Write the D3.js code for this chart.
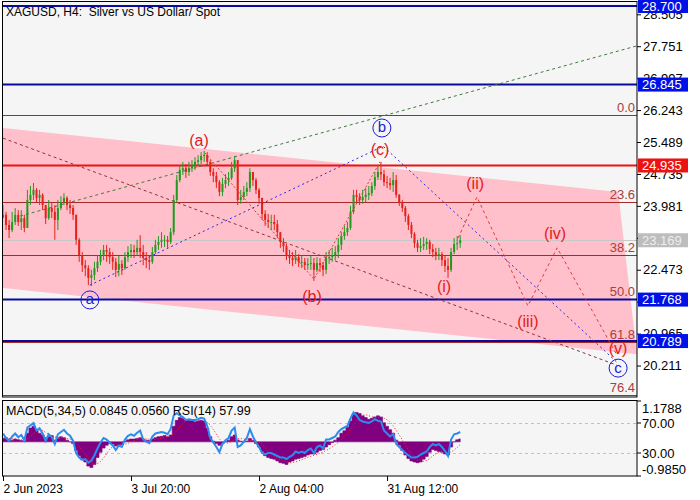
<!DOCTYPE html>
<html lang="en">
<head>
<meta charset="UTF-8">
<title>XAGUSD H4</title>
<style>
  body { margin: 0; background: #fff; }
  svg text { font-family: "Liberation Sans", Arial, sans-serif; white-space: pre; }
</style>
</head>
<body>
<div id="chart"></div>
<script src="https://cdnjs.cloudflare.com/ajax/libs/d3/7.8.5/d3.min.js"></script>
<script>
// H4 bars, one slot = ~3 real bars
const firstOpen = 23.70;
const closes = [
  23.77,23.53,23.41,23.60,23.77,23.60,23.69,23.46,24.12,24.24,
  24.36,24.17,24.24,24.00,23.69,23.93,23.84,23.65,23.93,24.07,
  24.17,24.00,23.93,23.77,23.18,22.82,22.58,22.51,22.28,22.35,
  22.51,22.66,22.80,22.94,22.89,22.77,22.66,22.47,22.61,22.51,
  22.77,22.89,22.94,22.89,22.99,22.89,22.75,22.70,22.66,22.89,
  23.06,23.13,23.18,23.18,23.13,23.36,24.12,24.59,24.83,24.87,
  24.78,24.87,24.95,25.02,25.06,25.16,25.18,25.02,24.78,24.69,
  24.54,24.31,24.50,24.59,24.64,24.87,25.06,24.12,24.19,24.31,
  24.40,24.78,24.59,24.36,24.17,23.79,23.65,23.60,23.60,23.55,
  23.36,23.13,23.03,22.80,22.75,22.70,22.77,22.66,22.66,22.58,
  22.61,22.63,22.47,22.63,22.58,22.47,22.75,22.77,22.82,22.89,
  23.06,23.27,23.36,23.46,23.84,24.24,24.19,24.12,24.19,24.24,
  24.28,24.45,24.66,24.78,24.73,24.54,24.52,24.47,24.59,24.24,
  24.07,23.93,23.74,23.53,23.32,23.10,22.99,23.03,23.08,23.13,
  22.96,22.89,22.80,22.84,22.70,22.56,22.47,22.89,23.08,23.10,
  23.17];
const highs = [
  24.00,23.84,23.65,23.84,23.93,23.88,23.88,23.77,24.36,24.45,
  24.52,24.40,24.36,24.28,24.00,24.12,24.07,24.00,24.12,24.21,
  24.28,24.21,24.12,24.00,23.77,23.22,22.89,22.70,22.58,22.47,
  22.66,22.82,22.94,23.06,23.06,22.99,22.89,22.75,22.80,22.70,
  22.89,23.03,23.08,23.06,23.18,23.29,23.06,22.89,22.82,23.01,
  23.18,23.27,23.36,23.29,23.27,23.46,24.24,24.71,24.95,25.02,
  24.97,25.02,25.06,25.13,25.18,25.25,25.28,25.25,25.06,24.87,
  24.78,24.59,24.64,24.73,24.78,25.02,25.16,25.06,24.36,24.45,
  24.54,24.87,24.78,24.64,24.40,24.17,23.88,23.79,23.77,23.77,
  23.65,23.36,23.22,23.08,22.94,22.89,22.94,22.84,22.80,22.75,
  22.75,22.80,22.75,22.77,22.75,22.66,22.89,22.94,22.99,23.03,
  23.22,23.36,23.51,23.60,23.98,24.36,24.36,24.28,24.36,24.40,
  24.45,24.54,24.78,24.95,25.02,24.83,24.69,24.64,24.78,24.71,
  24.26,24.12,23.98,23.79,23.60,23.36,23.18,23.22,23.25,23.22,
  23.18,23.08,22.99,22.99,22.89,22.80,22.75,22.99,23.22,23.27,
  23.29];
const lows = [
  23.69,23.41,23.22,23.36,23.53,23.51,23.41,23.36,23.46,24.00,
  24.12,24.07,24.00,23.88,23.55,23.65,23.69,23.18,23.41,23.88,
  24.00,23.88,23.79,23.65,23.06,22.66,22.42,22.32,22.11,22.09,
  22.23,22.42,22.58,22.70,22.66,22.61,22.47,22.30,22.32,22.35,
  22.47,22.66,22.75,22.75,22.80,22.75,22.58,22.51,22.47,22.61,
  22.84,22.94,22.99,23.01,22.99,23.08,23.29,24.07,24.54,24.71,
  24.64,24.69,24.78,24.83,24.92,24.97,25.02,24.92,24.69,24.54,
  24.40,24.21,24.21,24.40,24.45,24.59,24.78,24.00,24.03,24.12,
  24.21,24.31,24.45,24.26,24.03,23.65,23.51,23.46,23.41,23.41,
  23.22,22.99,22.89,22.70,22.61,22.56,22.61,22.54,22.51,22.47,
  22.47,22.47,22.21,22.42,22.42,22.32,22.37,22.61,22.66,22.70,
  22.75,22.94,23.18,23.27,23.41,23.79,24.07,24.00,24.03,24.07,
  24.12,24.21,24.36,24.59,24.59,24.45,24.40,24.36,24.31,24.17,
  23.98,23.84,23.60,23.41,23.22,22.99,22.89,22.89,22.94,22.94,
  22.84,22.77,22.70,22.70,22.56,22.42,22.28,22.42,22.84,22.94,
  22.99];
const macdHist = [
  0.10,0.12,0.08,0.05,0.08,0.06,0.04,0.02,0.25,0.40,
  0.45,0.35,0.25,0.20,0.12,0.15,0.18,0.05,0.10,0.15,
  0.12,0.05,0.00,-0.05,-0.25,-0.40,-0.52,-0.58,-0.70,-0.74,
  -0.65,-0.45,-0.30,-0.18,-0.10,-0.05,-0.06,-0.12,-0.10,-0.08,
  0.02,0.06,0.08,0.08,0.10,0.12,0.08,0.05,0.04,0.08,
  0.12,0.15,0.16,0.18,0.15,0.20,0.45,0.62,0.70,0.68,
  0.62,0.62,0.60,0.58,0.60,0.62,0.60,0.40,0.15,0.02,
  -0.05,-0.10,-0.05,0.00,0.05,0.15,0.20,0.05,0.02,0.00,
  0.02,0.10,0.05,-0.05,-0.15,-0.28,-0.40,-0.45,-0.48,-0.50,
  -0.55,-0.60,-0.62,-0.65,-0.58,-0.55,-0.50,-0.48,-0.45,-0.42,
  -0.38,-0.35,-0.35,-0.30,-0.25,-0.22,-0.15,-0.08,-0.02,0.05,
  0.12,0.25,0.32,0.42,0.60,0.80,0.85,0.82,0.75,0.70,
  0.65,0.68,0.72,0.75,0.72,0.55,0.45,0.35,0.25,0.05,
  -0.10,-0.25,-0.38,-0.48,-0.55,-0.58,-0.60,-0.58,-0.50,-0.42,
  -0.30,-0.22,-0.25,-0.28,-0.30,-0.35,-0.38,-0.15,0.00,0.06,
  0.0845];
const rsiVals = [
  56,50,46,52,56,51,54,47,64,67,
  70,60,63,56,46,55,51,42,55,58,
  61,56,53,46,30,24,21,22,17,20,
  27,36,44,50,48,44,40,34,40,38,
  48,53,55,53,57,60,48,45,43,52,
  56,57,58,57,55,62,80,83,80,78,
  74,75,74,74,75,77,76,66,50,44,
  38,31,42,47,50,60,64,38,40,45,
  50,62,52,44,38,30,28,30,30,28,
  26,24,24,22,25,27,32,30,32,30,
  34,36,30,38,40,36,48,48,50,52,
  58,62,64,66,76,84,80,74,72,71,
  70,72,75,73,72,60,56,52,55,42,
  38,34,30,27,24,24,25,28,30,32,
  38,42,40,42,38,33,26,48,55,56,
  57.99];

const priceTicks = [28.505, 27.751, 26.997, 26.243, 25.489, 24.735, 23.981, 23.227, 22.473, 21.719, 20.965, 20.211];
const hiddenTicks = [23.227, 21.719]; // fully covered by price boxes
const blueLevels = [28.700, 26.845, 21.768, 20.789];
const redLevels = [24.935];
const bidPrice = 23.169;
const fibNames = ["0.0", "23.6", "38.2", "50.0", "61.8", "76.4"];
const fibPrices = [26.126, 24.079, 22.820, 21.793, 20.771, 19.515];
const dateLabels = ["2 Jun 2023", "3 Jul 20:00", "2 Aug 04:00", "31 Aug 12:00"];
const dateSlots = [0, 42, 84, 126];

// drawn objects (slot, price)
const channelSlots = [0, 201.8, 208, 0];
const channelPrices = [25.82, 24.31, 20.48, 22.04];
const greenSlots = [5.6, 208], greenPrices = [23.74, 27.76];
const diagSlots = [0, 201.4], diagPrices = [25.58, 20.22];
const abcSlots = [28.5, 124.7, 201.4], abcPrices = [22.11, 25.39, 20.29];
const subSlots = [66.3, 102.0, 123.7], subPrices = [25.23, 22.25, 25.02];
const projSlots = [149.3, 155.5, 172.2, 181.8, 201.4], projPrices = [23.22, 24.19, 21.62, 22.99, 20.46];
const waveNames = ["(a)", "(b)", "(c)", "(i)", "(ii)", "(iii)", "(iv)", "(v)"];
const waveSlots = [64.3, 101.4, 123.7, 144.7, 154.9, 172.2, 181.1, 201.8];
const wavePrices = [25.53, 21.85, 25.32, 22.07, 24.52, 21.24, 23.34, 20.62];
const circNames = ["a", "b", "c"];
const circSlots = [28.5, 124.3, 201.8];
const circPrices = [21.76, 25.82, 20.15];

const W = 700, H = 500;
const plotL = 3, plotR = 637, mainT = 2, mainB = 397, indT = 401, indB = 476;

const svg = d3.select('#chart').append('svg').attr('width', W).attr('height', H);

const x = d3.scaleLinear().domain([0, 208]).range([plotL, plotR]);
const y = d3.scaleLinear().domain([19.468, 28.795]).range([mainB, mainT]);
const yMacd = d3.scaleLinear().domain([-0.985, 1.1788]).range([indB, indT]);
const yRsi = d3.scaleLinear().domain([0, 100]).range([475.5, 400.5]);

svg.append('clipPath').attr('id', 'clipMain')
  .append('rect').attr('x', plotL).attr('y', mainT).attr('width', plotR - plotL).attr('height', mainB - mainT);
svg.append('clipPath').attr('id', 'clipInd')
  .append('rect').attr('x', plotL).attr('y', indT).attr('width', plotR - plotL).attr('height', indB - indT);

svg.append('rect').attr('x', 2).attr('y', 1.5).attr('width', plotR - 2).attr('height', mainB - 1.5)
  .attr('fill', '#f5f5f5');
svg.append('rect').attr('x', 2).attr('y', 400).attr('width', plotR - 2).attr('height', indB - 400)
  .attr('fill', '#f5f5f5');

const main = svg.append('g').attr('clip-path', 'url(#clipMain)');

// channel
const chan = channelSlots.map((s, i) => [x(s), y(channelPrices[i])]);
main.append('path').attr('d', d3.line()(chan) + 'Z').attr('fill', '#ffc0cb');

// fibo levels
main.selectAll('.fib').data(fibPrices).join('line')
  .attr('x1', plotL).attr('x2', plotR)
  .attr('y1', d => Math.round(y(d)) + 0.5).attr('y2', d => Math.round(y(d)) + 0.5)
  .attr('stroke', '#a52a2a').attr('stroke-width', 1);

// bid line
main.append('line').attr('x1', plotL).attr('x2', plotR)
  .attr('y1', Math.round(y(bidPrice)) + 0.5).attr('y2', Math.round(y(bidPrice)) + 0.5)
  .attr('stroke', '#c8c8c8');

main.selectAll('.lvlB').data(blueLevels).join('line')
  .attr('x1', plotL).attr('x2', plotR).attr('y1', d => y(d)).attr('y2', d => y(d))
  .attr('stroke', '#0a0a9c').attr('stroke-width', 2);
main.selectAll('.lvlR').data(redLevels).join('line')
  .attr('x1', plotL).attr('x2', plotR).attr('y1', d => y(d)).attr('y2', d => y(d))
  .attr('stroke', '#ee1111').attr('stroke-width', 2);

function pathOf(slots, prices) {
  return d3.line()(slots.map((s, i) => [x(s), y(prices[i])]));
}
main.append('path').attr('d', pathOf(greenSlots, greenPrices)).attr('fill', 'none')
  .attr('stroke', '#3d7a3d').attr('stroke-dasharray', '3,3');
main.append('path').attr('d', pathOf(diagSlots, diagPrices)).attr('fill', 'none')
  .attr('stroke', '#8b3535').attr('stroke-dasharray', '3,3');

// candles
const candles = closes.map((c, i) => {
  const o = i === 0 ? firstOpen : closes[i - 1];
  return { i, o, c, h: Math.max(highs[i], o, c), l: Math.min(lows[i], o, c) };
});
const bull = '#219a21', bear = '#e4221a';
main.selectAll('.wick').data(candles).join('line')
  .attr('x1', d => x(d.i)).attr('x2', d => x(d.i))
  .attr('y1', d => y(d.h)).attr('y2', d => y(d.l))
  .attr('stroke', d => d.c >= d.o ? bull : bear).attr('stroke-width', 1);
main.selectAll('.body').data(candles).join('rect')
  .attr('x', d => x(d.i) - 1).attr('width', 2)
  .attr('y', d => y(Math.max(d.o, d.c)))
  .attr('height', d => Math.max(1, Math.abs(y(d.o) - y(d.c))))
  .attr('fill', d => d.c >= d.o ? bull : bear);

// wave paths
main.append('path').attr('d', pathOf(abcSlots, abcPrices)).attr('fill', 'none')
  .attr('stroke', '#2a2ae0').attr('stroke-dasharray', '2,3');
main.append('path').attr('d', pathOf(subSlots, subPrices)).attr('fill', 'none')
  .attr('stroke', '#e03a3a').attr('stroke-dasharray', '2,2');
main.append('path').attr('d', pathOf(projSlots, projPrices)).attr('fill', 'none')
  .attr('stroke', '#e03a3a').attr('stroke-dasharray', '3,3');

// fib labels
main.selectAll('.fibT').data(fibPrices).join('text')
  .attr('x', 635).attr('y', d => y(d) - 3)
  .attr('text-anchor', 'end').attr('font-size', 13).attr('fill', '#a8403c')
  .text((d, i) => fibNames[i]);

// wave labels
main.selectAll('.wave').data(waveNames).join('text')
  .attr('x', (d, i) => x(waveSlots[i])).attr('y', (d, i) => y(wavePrices[i]))
  .attr('text-anchor', 'middle').attr('dominant-baseline', 'central')
  .attr('font-size', 16).attr('fill', '#e41a1a').text(d => d);

const circ = main.selectAll('.circ').data(circNames).join('g')
  .attr('transform', (d, i) => `translate(${x(circSlots[i])},${y(circPrices[i])})`);
circ.append('circle').attr('r', 9).attr('fill', 'none').attr('stroke', '#1a1ad8').attr('stroke-width', 1);
circ.append('text').attr('text-anchor', 'middle').attr('dominant-baseline', 'central')
  .attr('y', -1).attr('font-size', 15).attr('fill', '#1a1ad8').text(d => d);

// frames
svg.append('rect').attr('x', 2.5).attr('y', 1.5).attr('width', plotR - 2.5).attr('height', mainB - 1.5)
  .attr('fill', 'none').attr('stroke', '#000');

svg.append('text').attr('x', 6).attr('y', 16).attr('font-size', 12).attr('fill', '#000')
  .text('XAGUSD, H4:\u00a0 Silver vs US Dollar/ Spot');

// price axis
const yAxis = svg.append('g').attr('transform', `translate(${plotR},0)`)
  .call(d3.axisRight(y).tickValues(priceTicks).tickSize(4).tickPadding(2)
    .tickFormat(d => hiddenTicks.includes(d) ? '' : d3.format('.3f')(d)));
yAxis.select('.domain').remove();
yAxis.selectAll('text').attr('font-size', 13).attr('font-family', '"Liberation Sans", Arial, sans-serif').attr('fill', '#000');
yAxis.selectAll('line').attr('stroke', '#000');

function priceBox(v, bg, fg) {
  const g = svg.append('g').attr('transform', `translate(638,${y(v)})`);
  g.append('rect').attr('x', 0).attr('y', -7).attr('width', 50).attr('height', 14).attr('fill', bg);
  g.append('text').attr('x', 4).attr('y', 0).attr('dominant-baseline', 'central')
    .attr('font-size', 13).attr('fill', fg).text(v.toFixed(3));
}
blueLevels.forEach(v => priceBox(v, '#0010e8', '#fff'));
redLevels.forEach(v => priceBox(v, '#ee1111', '#fff'));
priceBox(bidPrice, '#bdbdbd', '#eeeeee');

// indicator panel
const ind = svg.append('g').attr('clip-path', 'url(#clipInd)');
[70, 30].forEach(v => {
  ind.append('line').attr('x1', plotL).attr('x2', plotR)
    .attr('y1', Math.round(yRsi(v)) + 0.5).attr('y2', Math.round(yRsi(v)) + 0.5)
    .attr('stroke', '#c0c0c0').attr('stroke-dasharray', '3,3');
});
ind.append('path')
  .attr('d', d3.area().curve(d3.curveStep).x((d, i) => x(i)).y0(yMacd(0)).y1(d => yMacd(d))(macdHist))
  .attr('fill', '#800080').attr('stroke', '#800080').attr('stroke-width', 0.6);
const signal = macdHist.map((d, i) => d3.mean(macdHist.slice(Math.max(0, i - 4), i + 1)));
ind.append('path')
  .attr('d', d3.line().x((d, i) => x(i)).y(d => yMacd(d))(signal))
  .attr('fill', 'none').attr('stroke', '#ff2020').attr('stroke-dasharray', '1,2');
ind.append('path')
  .attr('d', d3.line().x((d, i) => x(i)).y(d => yRsi(d))(rsiVals))
  .attr('fill', 'none').attr('stroke', '#2b8cf0').attr('stroke-width', 2);

svg.append('rect').attr('x', 2.5).attr('y', 400.5).attr('width', plotR - 2.5).attr('height', indB - 400.5)
  .attr('fill', 'none').attr('stroke', '#000');
svg.append('text').attr('x', 6).attr('y', 415).attr('font-size', 12.5).attr('fill', '#000')
  .text('MACD(5,34,5) 0.0845 0.0560 RSI(14) 57.99');

const indTicks = [
  { y: yMacd(1.1788), ty: yMacd(1.1788) + 7, t: '1.1788' },
  { y: yRsi(70), ty: yRsi(70), t: '70.00' },
  { y: yRsi(30), ty: yRsi(30), t: '30.00' },
  { y: yMacd(-0.985), ty: yMacd(-0.985) - 7, t: '-0.9850' }
];
indTicks.forEach(d => {
  svg.append('line').attr('x1', plotR).attr('x2', plotR + 4).attr('y1', d.y).attr('y2', d.y).attr('stroke', '#000');
  svg.append('text').attr('x', plotR + 5).attr('y', d.ty).attr('dominant-baseline', 'central')
    .attr('font-size', 13).attr('fill', '#000').text(d.t);
});

// time axis
const xAxis = svg.append('g').attr('transform', `translate(0,${indB})`)
  .call(d3.axisBottom(x).tickValues(dateSlots).tickSize(5).tickPadding(3).tickFormat((d, i) => dateLabels[i]));
xAxis.select('.domain').remove();
xAxis.selectAll('line').attr('stroke', '#000');
xAxis.selectAll('text').attr('text-anchor', 'start').attr('font-size', 12)
  .attr('font-family', '"Liberation Sans", Arial, sans-serif').attr('fill', '#000');
</script>
</body>
</html>
